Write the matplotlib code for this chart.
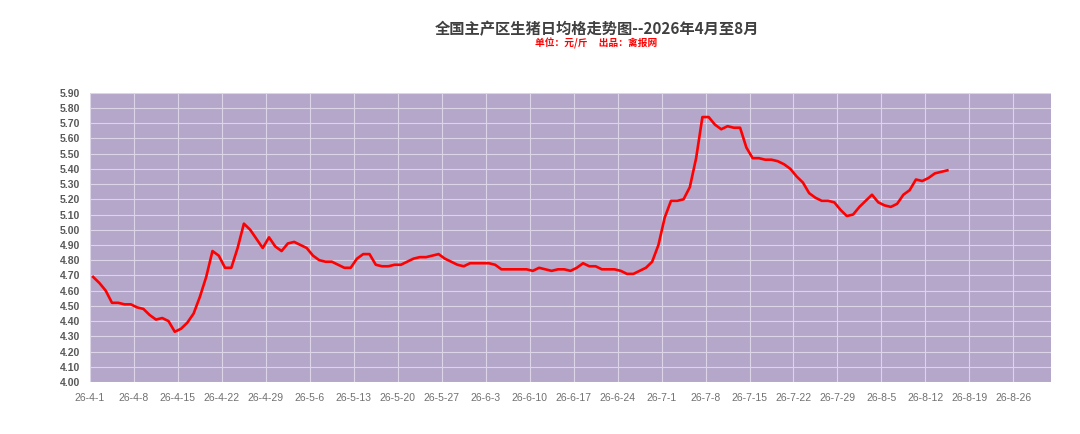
import matplotlib
matplotlib.use("Agg")
import matplotlib.pyplot as plt
import matplotlib.dates as mdates
import numpy as np
import pandas as pd

start_date = "2026-04-01"
prices = [
    4.69, 4.65, 4.60, 4.52, 4.52, 4.51, 4.51, 4.49, 4.48, 4.44,
    4.41, 4.42, 4.40, 4.33, 4.35, 4.39, 4.45, 4.56, 4.69, 4.86,
    4.83, 4.75, 4.75, 4.88, 5.04, 5.00, 4.94, 4.88, 4.95, 4.89,
    4.86, 4.91, 4.92, 4.90, 4.88, 4.83, 4.80, 4.79, 4.79, 4.77,
    4.75, 4.75, 4.81, 4.84, 4.84, 4.77, 4.76, 4.76, 4.77, 4.77,
    4.79, 4.81, 4.82, 4.82, 4.83, 4.84, 4.81, 4.79, 4.77, 4.76,
    4.78, 4.78, 4.78, 4.78, 4.77, 4.74, 4.74, 4.74, 4.74, 4.74,
    4.73, 4.75, 4.74, 4.73, 4.74, 4.74, 4.73, 4.75, 4.78, 4.76,
    4.76, 4.74, 4.74, 4.74, 4.73, 4.71, 4.71, 4.73, 4.75, 4.79,
    4.90, 5.08, 5.19, 5.19, 5.20, 5.28, 5.47, 5.74, 5.74, 5.69,
    5.66, 5.68, 5.67, 5.67, 5.54, 5.47, 5.47, 5.46, 5.46, 5.45,
    5.43, 5.40, 5.35, 5.31, 5.24, 5.21, 5.19, 5.19, 5.18, 5.13,
    5.09, 5.10, 5.15, 5.19, 5.23, 5.18, 5.16, 5.15, 5.17, 5.23,
    5.26, 5.33, 5.32, 5.34, 5.37, 5.38, 5.39,
]
title = "全国主产区生猪日均格走势图--2026年4月至8月"
subtitle = "单位：元/斤     出品：禽报网"
x_start, x_end = "2026-04-01", "2026-09-01"
x_tick_dates = pd.date_range("2026-04-01", "2026-08-26", freq="7D")
y_ticks = np.round(np.arange(4.00, 5.901, 0.10), 2)

dates = pd.date_range(start_date, periods=len(prices), freq="D") + pd.Timedelta(hours=12)

plt.rcParams['font.family'] = ['Noto Sans CJK SC', 'DejaVu Sans']

fig = plt.figure(figsize=(10.8, 4.34), dpi=100)
ax = fig.add_axes([90/1080, 1-382/434, (1051-90)/1080, (382-92.7)/434])
ax.set_facecolor("#B4A7CA")
for s in ax.spines.values():
    s.set_visible(False)

ax.plot(dates, prices, color="#FF0000", linewidth=1.9, solid_joinstyle="round", zorder=3)

ax.set_xlim(pd.Timestamp(x_start), pd.Timestamp(x_end))
ax.set_ylim(4.0, 5.9)
ax.set_yticks(y_ticks)
ax.set_yticklabels([f"{v:.2f}" for v in y_ticks], fontsize=7.5, fontweight="bold",
                   color="#595959", family=["Liberation Sans", "DejaVu Sans"])
ax.set_xticks(x_tick_dates)
ax.set_xticklabels([f"{d.year % 100}-{d.month}-{d.day}" for d in x_tick_dates], fontsize=7.5,
                   color="#707070", family=["Liberation Sans", "DejaVu Sans"])
ax.tick_params(axis="both", length=0)
ax.tick_params(axis="y", pad=7)
ax.tick_params(axis="x", pad=8)
ax.grid(True, color="#DCD5E8", linewidth=0.8, zorder=1)
ax.set_axisbelow(True)

fig.text(596.5/1080, 1-29/434, title, ha="center", va="center", fontsize=11,
         fontweight="bold", color="#404040")
fig.text(596.5/1080, 1-43.5/434, subtitle, ha="center", va="center", fontsize=7,
         fontweight="bold", color="#FF0000")

fig.savefig("out.png", dpi=100, facecolor="white")
